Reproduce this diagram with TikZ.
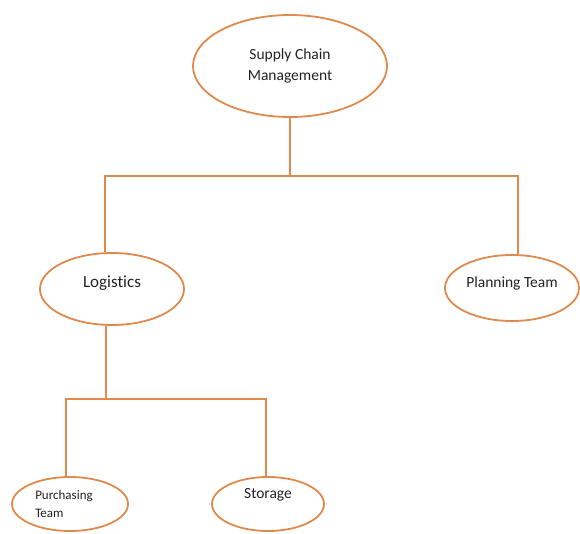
\documentclass[tikz,border=0pt]{standalone}
\usepackage{fontspec}
\setmainfont[Ligatures=NoCommon]{Carlito}
\usetikzlibrary{shapes.geometric}
\definecolor{linkorange}{RGB}{224,137,77}
\definecolor{inktext}{RGB}{35,35,35}
% lift a one-line label inside its ellipse without changing the box size
\newcommand{\liftlabel}[2]{\raisebox{#1}[0.75em][0.25em]{#2}}
\begin{document}
\begin{tikzpicture}[x=1pt,y=-1pt,
  bubble/.style={ellipse, draw=linkorange, line width=1.8pt, inner sep=0pt,
    fill=white, text=inktext, align=center, font=\fontsize{15.5}{21}\selectfont},
  smallbubble/.style={bubble, align=left, font=\fontsize{13}{18}\selectfont},
  link/.style={draw=linkorange, line width=1.8pt}]
\useasboundingbox (0,0) rectangle (580,534);

% org chart nodes
\node[bubble, minimum width=194, minimum height=102] (scm) at (290,66) {Supply Chain\\Management};
\node[bubble, minimum width=144, minimum height=72, font=\fontsize{17}{21}\selectfont] (log) at (112,289) {\liftlabel{6pt}{Logistics}};
\node[bubble, minimum width=134, minimum height=66] (plan) at (512,288) {\liftlabel{4pt}{Planning Team}};
\node[smallbubble, minimum width=116, minimum height=54] (pur) at (70,504) {Purchasing\hspace*{12pt}\\Team};
\node[bubble, minimum width=112, minimum height=54] (sto) at (268,504) {\liftlabel{9pt}{Storage}};

% junction points of the connectors
\coordinate (bus1) at (290,176);
\coordinate (bus2) at (106,399);

% connectors
\draw[link] (scm.south) -- (bus1);
\draw[link] ([xshift=-7]log.north) |- (bus1) -| ([xshift=6]plan.north);
\draw[link] ([xshift=-6]log.south) -- (bus2);
\draw[link] ([xshift=-4]pur.north) |- (bus2) -| ([xshift=-2]sto.north);
\end{tikzpicture}
\end{document}
